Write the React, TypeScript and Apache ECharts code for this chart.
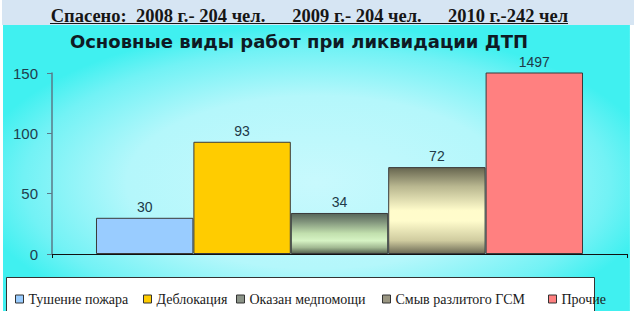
import React, { useEffect, useRef } from "react";
import * as echarts from "echarts";

const categories = [""];
const seriesNames = [
  "Тушение пожара",
  "Деблокация",
  "Оказан медпомощи",
  "Смыв разлитого ГСМ",
  "Прочие",
];
const seriesValues = [30, 93, 34, 72, 1497];
const yMin = 0;
const yMax = 150;
const yInterval = 50;
const titleText = "Основные виды работ при ликвидации ДТП";
const savedParts = ["Спасено:  2008 г.- 204 чел.", "2009 г.- 204 чел.", "2010 г.-242 чел"];

const lin = (stops: [number, string][]) => ({
  type: "linear",
  x: 0,
  y: 0,
  x2: 0,
  y2: 1,
  colorStops: stops.map(([offset, color]) => ({ offset, color })),
});

const barFills: any[] = [
  "#99ccff",
  "#ffcc00",
  lin([
    [0, "#56665a"],
    [0.2, "#7f927a"],
    [0.5, "#c2e0ae"],
    [0.68, "#d6f3c4"],
    [0.85, "#a2b992"],
    [1, "#55624f"],
  ]),
  lin([
    [0, "#66654f"],
    [0.22, "#b9b790"],
    [0.5, "#fffccb"],
    [0.62, "#fffccc"],
    [0.85, "#cfcb9f"],
    [1, "#6c6a55"],
  ]),
  "#ff8080",
];
const legendIconColors = ["#99ccff", "#ffcc00", "#8c9488", "#9a9682", "#ff8080"];
const legendLefts = [15, 143, 236, 382, 548];

export default function App() {
  const ref = useRef<HTMLDivElement>(null);
  useEffect(() => {
    if (!ref.current) return;
    const chart = echarts.init(ref.current, null, { renderer: "svg" });
    const subFont = "bold 18.5px 'Liberation Serif'";
    const option: any = {
      animation: false,
      graphic: [
        {
          type: "rect",
          z: -20,
          shape: { x: 2, y: 0, width: 632, height: 25 },
          style: { fill: "#d6e5f3" },
        },
        {
          type: "rect",
          z: -20,
          x: 3,
          y: 25,
          scaleX: 627 / 286,
          shape: { x: 0, y: 0, width: 286, height: 286 },
          style: {
            fill: {
              type: "radial",
              x: 0.5,
              y: 0.55,
              r: 0.55,
              colorStops: [
                { offset: 0, color: "#c8f9fd" },
                { offset: 0.55, color: "#b4f7fb" },
                { offset: 0.85, color: "#72f2f5" },
                { offset: 1, color: "#40f0f0" },
              ],
            },
          },
        },
        {
          type: "rect",
          z: -5,
          shape: { x: 6.5, y: 277.5, width: 588, height: 40 },
          style: { fill: "#ffffff", stroke: "#333333", lineWidth: 1 },
        },
        {
          type: "text",
          z: 10,
          x: 158,
          y: 16,
          style: {
            text: savedParts[0],
            textAlign: "center",
            textVerticalAlign: "middle",
            font: subFont,
            fill: "#161616",
          },
        },
        {
          type: "text",
          z: 10,
          x: 357,
          y: 16,
          style: {
            text: savedParts[1],
            textAlign: "center",
            textVerticalAlign: "middle",
            font: subFont,
            fill: "#161616",
          },
        },
        {
          type: "text",
          z: 10,
          x: 508,
          y: 16,
          style: {
            text: savedParts[2],
            textAlign: "center",
            textVerticalAlign: "middle",
            font: subFont,
            fill: "#161616",
          },
        },
        {
          type: "line",
          z: 10,
          shape: { x1: 50, y1: 23.5, x2: 568, y2: 23.5 },
          style: { stroke: "#161616", lineWidth: 1.2 },
        },
        {
          type: "text",
          z: 10,
          x: 299,
          y: 41,
          style: {
            text: titleText,
            textAlign: "center",
            textVerticalAlign: "middle",
            font: "bold 18px 'DejaVu Sans'",
            fill: "#0e1a24",
          },
        },
      ],
      legend: seriesNames.map((name, i) => ({
        data: [
          {
            name,
            itemStyle: { color: legendIconColors[i], borderColor: "#333", borderWidth: 1 },
          },
        ],
        left: legendLefts[i],
        top: 292,
        padding: 0,
        itemWidth: 8,
        itemHeight: 8,
        icon: "rect",
        selectedMode: false,
        textStyle: { fontFamily: "Liberation Serif", fontSize: 14, color: "#1a1a1a" },
      })),
      grid: { left: 52, right: 9, top: 73, bottom: 57, containLabel: false },
      xAxis: {
        type: "category",
        data: categories,
        axisLine: { lineStyle: { color: "#111", width: 1 } },
        axisTick: { show: true, length: 4, lineStyle: { color: "#111" } },
        axisLabel: { show: false },
      },
      yAxis: {
        type: "value",
        min: yMin,
        max: yMax,
        interval: yInterval,
        splitLine: { show: false },
        axisLine: { show: true, lineStyle: { color: "#5a7a88", width: 1.5 } },
        axisTick: { show: true, length: 5, lineStyle: { color: "#5a7a88" } },
        axisLabel: {
          margin: 14,
          fontFamily: "Liberation Sans",
          fontSize: 15,
          color: "#1f3d4d",
        },
      },
      series: seriesNames.map((name, i) => ({
        name,
        type: "bar",
        data: [seriesValues[i]],
        barGap: "0%",
        barCategoryGap: "15.3%",
        clip: true,
        itemStyle: { color: barFills[i], borderColor: "#3a3a3a", borderWidth: 1 },
        label: {
          show: true,
          position: "top",
          distance: 4,
          fontFamily: "Liberation Sans",
          fontSize: 14,
          color: "#203a48",
        },
      })),
    };
    chart.setOption(option);
    return () => chart.dispose();
  }, []);
  return (
    <div
      ref={ref}
      style={{ position: "absolute", left: 0, top: 0, width: 636, height: 311 }}
    />
  );
}
